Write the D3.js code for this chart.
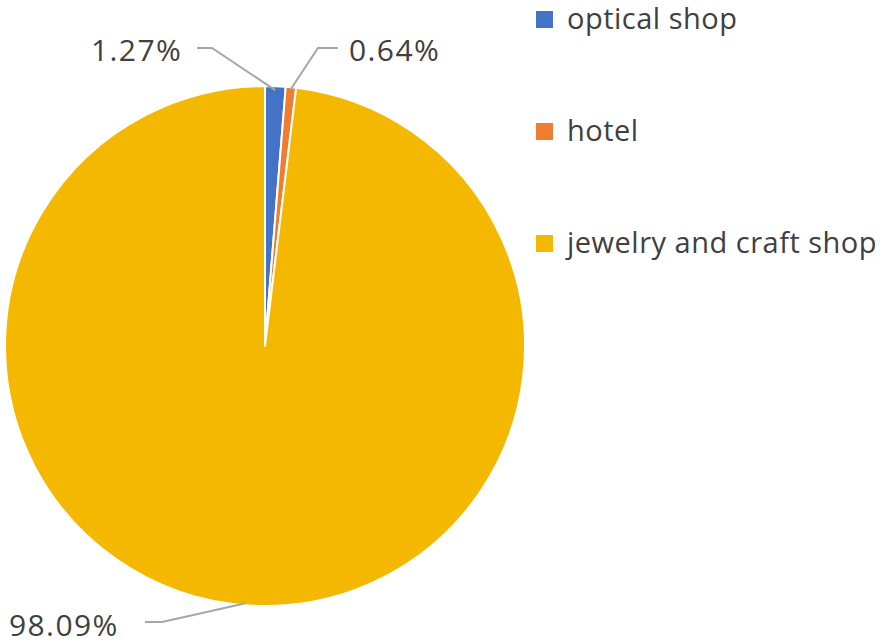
<!DOCTYPE html>
<html>
<head>
<meta charset="utf-8">
<script src="https://cdn.jsdelivr.net/npm/d3@7"></script>
<style>
html,body{margin:0;padding:0;background:#fff;}
svg{display:block;}
</style>
</head>
<body>
<svg id="chart" width="886" height="644"></svg>
<script>
const categories = ["optical shop", "hotel", "jewelry and craft shop"];
const values = [1.27, 0.64, 98.09];
const labels = ["1.27%", "0.64%", "98.09%"];
const colors = ["#4472C4", "#ED7D31", "#F4B800"];

const svg = d3.select("#chart");
const cx = 265, cy = 346, R = 260;
const font = "'Open Sans', 'Noto Sans', sans-serif";

const pie = d3.pie().sort(null).value(d => d)(values);
const arc = d3.arc().innerRadius(0).outerRadius(R);

const g = svg.append("g").attr("transform", `translate(${cx},${cy})`);
g.selectAll("path").data(pie).join("path")
  .attr("d", arc)
  .attr("fill", (d, i) => colors[i])
  .attr("stroke", "#fff")
  .attr("stroke-width", 2)
  .attr("stroke-linejoin", "round");

const layout = [
  {tx: 91, ty: 61, elbow: [212, 48], end: [197, 48], frac: 0.5, rr: R - 4},
  {tx: 349, ty: 61, elbow: [318, 48], end: [338, 48], frac: 0.5, rr: R - 2},
  {tx: 9, ty: 636, elbow: [162, 622], end: [145, 622], frac: 0.5, rr: R - 2}
];

pie.forEach((d, i) => {
  const L = layout[i];
  const a = i === 2 ? Math.PI + 0.075 : d.startAngle + (d.endAngle - d.startAngle) * L.frac;
  const px = cx + L.rr * Math.sin(a);
  const py = cy - L.rr * Math.cos(a);
  svg.append("polyline")
    .attr("points", [[px, py], L.elbow, L.end].map(p => p.join(",")).join(" "))
    .attr("fill", "none")
    .attr("stroke", "#A6A6A6")
    .attr("stroke-width", 2);
  svg.append("text")
    .attr("x", L.tx).attr("y", L.ty)
    .attr("font-family", font)
    .attr("font-size", 30)
    .attr("letter-spacing", 1.4)
    .attr("fill", "#404040")
    .text(labels[i]);
});

const leg = svg.append("g");
const legY = d3.scalePoint().domain(categories).range([19, 243]);
categories.forEach((c, i) => {
  const y = legY(c);
  leg.append("rect")
    .attr("x", 536).attr("y", y - 8)
    .attr("width", 17).attr("height", 17)
    .attr("fill", colors[i]);
  leg.append("text")
    .attr("x", 567).attr("y", y + 10)
    .attr("font-family", font)
    .attr("font-size", 29)
    .attr("letter-spacing", 0.5)
    .attr("fill", "#404040")
    .text(c);
});
</script>
</body>
</html>
